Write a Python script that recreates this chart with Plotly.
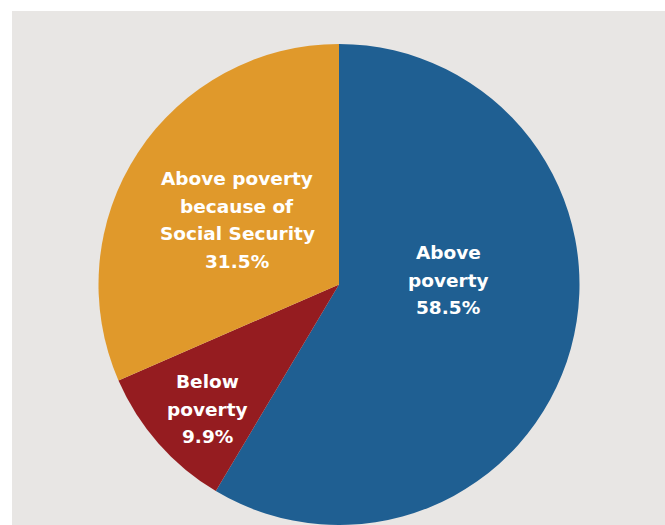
import plotly.graph_objects as go

W, H = 665, 525

categories = ["Above poverty", "Below poverty", "Above poverty because of Social Security"]
shares = [58.5, 9.9, 31.5]
colors = ["#1F5F92", "#951C20", "#E0992B"]
label_lines = [["Above", "poverty", "58.5%"],
               ["Below", "poverty", "9.9%"],
               ["Above poverty", "because of", "Social Security", "31.5%"]]
# label block centres in pixels (x, y of middle) and line pitch
label_pos = [(448, 280), (207, 409), (237, 220)]
LINE_PX = 27.5

fig = go.Figure()
fig.add_trace(go.Pie(
    labels=categories, values=shares, sort=False, direction="clockwise", rotation=0,
    marker=dict(colors=colors, line=dict(width=0)),
    textinfo="none", hoverinfo="label+percent", showlegend=False,
    domain=dict(x=[98 / W, 580 / W], y=[0, 1 - 44 / H]),
))

fig.add_shape(type="rect", xref="paper", yref="paper", x0=12 / W, x1=1, y0=0, y1=1 - 11 / H,
              fillcolor="#E8E6E4", line=dict(width=0), layer="below")

for lines, (px, py) in zip(label_lines, label_pos):
    n = len(lines)
    for i, t in enumerate(lines):
        ly = py + (i - (n - 1) / 2) * LINE_PX
        fig.add_annotation(text=t, xref="paper", yref="paper", x=px / W, y=1 - ly / H,
                           xanchor="center", yanchor="middle", showarrow=False, align="center",
                           font=dict(family="DejaVu Sans", size=18.5, color="white", weight="bold"))

fig.update_layout(width=W, height=H, margin=dict(l=0, r=0, t=0, b=0),
                  paper_bgcolor="white", plot_bgcolor="white")
fig.write_html("out.html", config={"displayModeBar": False},
               post_script="document.body.style.margin='0';")
